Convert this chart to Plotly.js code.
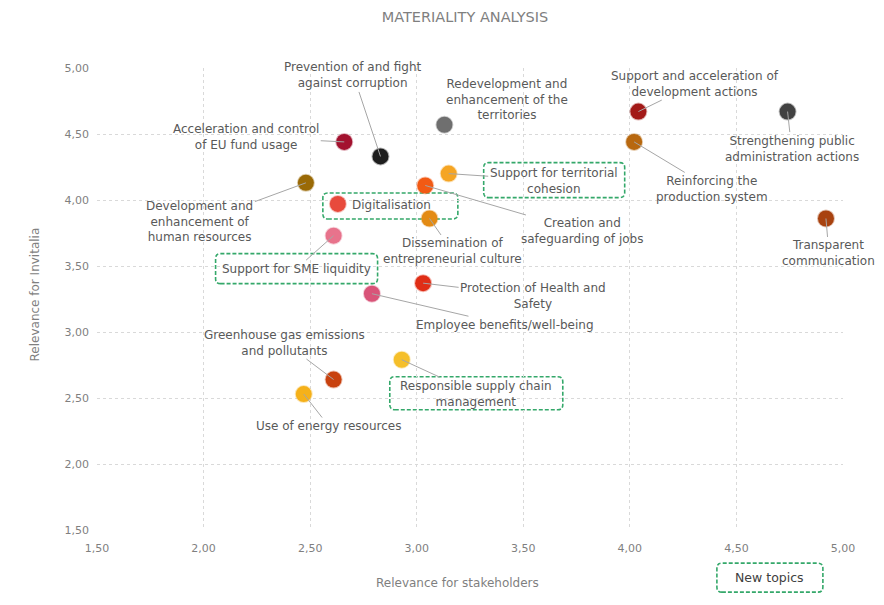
<!DOCTYPE html>
<html>
<head>
<meta charset="utf-8">
<script src="https://cdn.plot.ly/plotly-3.0.1.min.js"></script>
<style>html,body{margin:0;padding:0;background:#fff;}#chart{width:884px;height:605px;}</style>
</head>
<body>
<div id="chart"></div>
<script>
// ---- Data ----
const topics = [
  "Prevention of and fight<br>against corruption",
  "Acceleration and control<br>of EU fund usage",
  "Redevelopment and<br>enhancement of the<br>territories",
  "Support and acceleration of<br>development actions",
  "Strengthening public<br>administration actions",
  "Reinforcing the<br>production system",
  "Development and<br>enhancement of<br>human resources",
  "Support for territorial<br>cohesion",
  "Creation and<br>safeguarding of jobs",
  "Digitalisation",
  "Dissemination of<br>entrepreneurial culture",
  "Support for SME liquidity",
  "Protection of Health and<br>Safety",
  "Employee benefits/well-being",
  "Transparent<br>communication",
  "Greenhouse gas emissions<br>and pollutants",
  "Responsible supply chain<br>management",
  "Use of energy resources"
];
const stakeholders = [2.83, 2.66, 3.13, 4.04, 4.74, 4.02, 2.48, 3.15, 3.04, 2.63, 3.06, 2.61, 3.03, 2.79, 4.92, 2.61, 2.93, 2.47];
const invitalia    = [4.33, 4.44, 4.57, 4.67, 4.67, 4.44, 4.13, 4.20, 4.11, 3.97, 3.86, 3.73, 3.37, 3.29, 3.86, 2.64, 2.79, 2.53];
const isNewTopic   = [false,false,false,false,false,false,false,true,false,true,false,true,false,false,false,false,true,false];
const xTicks = [1.5, 2.0, 2.5, 3.0, 3.5, 4.0, 4.5, 5.0];
const yTicks = [1.5, 2.0, 2.5, 3.0, 3.5, 4.0, 4.5, 5.0];

// ---- Styles / label placement ----
const colors = ["#1e1e1e","#a3122f","#6f6f6f","#a31a18","#424242","#b8680f","#9a6a06","#f5a524","#f25a14","#e84a3c","#e38b14","#e8738c","#e02e16","#d95479","#a8420f","#c8420f","#f5bf2a","#f5b11a"];
const labelAx = [-27, -98, 63, 57, 4, 78, -106, 105, 157, 54, 23, -37, 110, 133, 3, -49, 74, 25];
const labelAy = [-81, -5, -25, -28, 37, 47, 39, 7, 46, 1, 33, 33, 13, 31, 35, -37, 34, 32];
const showLine = [true,true,false,true,true,true,true,true,true,false,true,true,true,true,true,true,true,true];
// new-topic dashed boxes, pixel offsets relative to point [x0,x1,y0,y1] (y up)
const boxOffsets = {7:[35,176,-24,11], 9:[-15,120,-15,11], 11:[-118,44,-48,-18], 16:[-12,161,-50,-17]};

function rbox(x0,x1,y0,y1,r){
  return `M${x0+r},${y0} L${x1-r},${y0} Q${x1},${y0} ${x1},${y0+r} L${x1},${y1-r} Q${x1},${y1} ${x1-r},${y1} L${x0+r},${y1} Q${x0},${y1} ${x0},${y1-r} L${x0},${y0+r} Q${x0},${y0} ${x0+r},${y0} Z`;
}

const FONT = "DejaVu Sans, sans-serif";
const textColor = "#595959";

const trace = {
  type: "scatter", mode: "markers",
  x: stakeholders, y: invitalia,
  text: topics.map(t => t.replace(/<br>/g," ")),
  hoverinfo: "text",
  marker: {
    size: 16, color: colors,
    line: {width: 2, color: colors.map(c => c + "55")}
  },
  showlegend: false
};

const annotations = topics.map((t,i) => ({
  x: stakeholders[i], y: invitalia[i], xref: "x", yref: "y",
  text: t, showarrow: true, ax: labelAx[i], ay: labelAy[i],
  arrowhead: 0, arrowwidth: 1, standoff: 0,
  arrowcolor: showLine[i] ? "#a6a6a6" : "rgba(0,0,0,0)",
  font: {family: FONT, size: 12, color: textColor}, align: "center"
}));
annotations.push({
  xref: "paper", yref: "paper", x: 0.483, y: -0.115, xanchor: "center", yanchor: "middle",
  text: "Relevance for stakeholders", showarrow: false,
  font: {family: FONT, size: 12, color: "#7f7f7f"}
});
annotations.push({
  xref: "paper", yref: "paper", x: -0.083, y: 0.51, xanchor: "center", yanchor: "middle",
  text: "Relevance for Invitalia", textangle: -90, showarrow: false,
  font: {family: FONT, size: 12, color: "#7f7f7f"}
});
annotations.push({
  xref: "paper", yref: "paper", x: 0.902, y: -0.102, xanchor: "center", yanchor: "middle",
  text: "New topics", showarrow: false,
  font: {family: FONT, size: 12.5, color: "#404040"}
});

const boxLine = {color: "#34a86a", width: 1.6, dash: "4px,2px"};
const shapes = [];
topics.forEach((t,i) => {
  if (isNewTopic[i] && boxOffsets[i]) {
    const [x0,x1,y0,y1] = boxOffsets[i];
    shapes.push({
      type: "path", xref: "x", yref: "y", xsizemode: "pixel", ysizemode: "pixel",
      xanchor: stakeholders[i], yanchor: invitalia[i],
      path: rbox(x0,x1,y0,y1,5), line: boxLine, fillcolor: "rgba(0,0,0,0)", layer: "below"
    });
  }
});
shapes.push({
  type: "path", xref: "paper", yref: "paper", xsizemode: "pixel", ysizemode: "pixel",
  xanchor: 0.902, yanchor: -0.102,
  path: rbox(-53,53,-15,14,5), line: boxLine, fillcolor: "rgba(0,0,0,0)"
});

const axisCommon = {
  showgrid: true, gridcolor: "#d9d9d9", griddash: "dot", gridwidth: 1,
  zeroline: false, showline: false, ticks: "",
  tickformat: ".2f",
  tickfont: {family: FONT, size: 11, color: "#7f7f7f"}
};

const layout = {
  width: 884, height: 605,
  paper_bgcolor: "#ffffff", plot_bgcolor: "#ffffff",
  separators: ", ",
  margin: {l: 97, r: 41, t: 68, b: 75},
  title: {text: "MATERIALITY ANALYSIS", x: 0.526, xanchor: "center", y: 0.972, yanchor: "middle",
          font: {family: FONT, size: 14.5, color: "#7f7f7f"}},
  xaxis: Object.assign({}, axisCommon, {range: [1.5, 5.0], tickvals: xTicks, ticklabelstandoff: 10}),
  yaxis: Object.assign({}, axisCommon, {range: [1.5, 5.0], tickvals: yTicks, ticklabelstandoff: 7}),
  annotations: annotations,
  shapes: shapes,
  showlegend: false
};

Plotly.newPlot("chart", [trace], layout, {displayModeBar: false, staticPlot: true});
</script>
</body>
</html>
